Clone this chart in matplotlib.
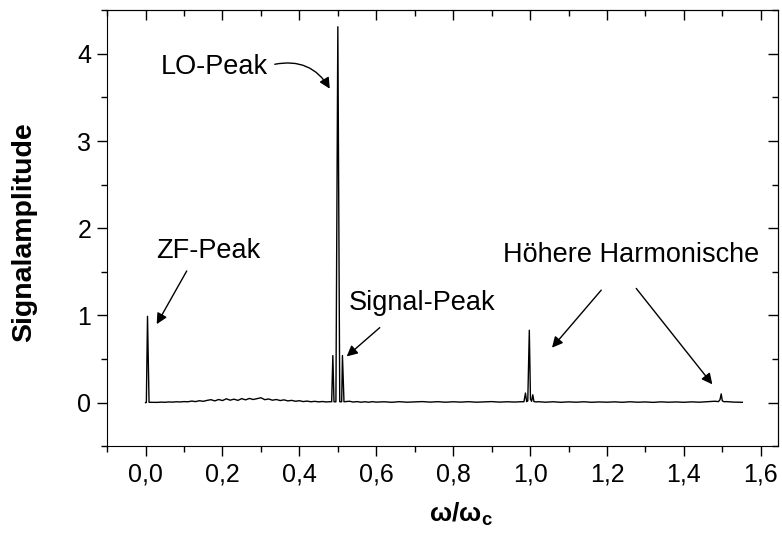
import numpy as np
import matplotlib.pyplot as plt
from matplotlib.ticker import MultipleLocator, FuncFormatter

plt.rcParams['font.family'] = ['Liberation Sans', 'DejaVu Sans']
plt.rcParams['mathtext.fontset'] = 'custom'
plt.rcParams['mathtext.rm'] = 'Liberation Sans'
plt.rcParams['mathtext.bf'] = 'Liberation Sans:bold'
plt.rcParams['mathtext.it'] = 'Liberation Sans:italic'

# Grundlinie (Rauschuntergrund)
base_w = [0.00, 0.02, 0.03, 0.04, 0.05, 0.06, 0.07, 0.08, 0.09, 0.10,
          0.11, 0.12, 0.13, 0.14, 0.15, 0.16, 0.17, 0.18, 0.19, 0.20,
          0.21, 0.22, 0.23, 0.24, 0.25, 0.26, 0.27, 0.28, 0.29, 0.30,
          0.31, 0.32, 0.33, 0.34, 0.35, 0.36, 0.37, 0.38, 0.39, 0.40,
          0.41, 0.42, 0.43, 0.44, 0.45, 0.46, 0.47, 0.48,
          0.52, 0.53, 0.54, 0.55, 0.56, 0.57, 0.58, 0.59, 0.60,
          0.62, 0.64, 0.66, 0.68, 0.70, 0.72, 0.74, 0.76, 0.78, 0.80,
          0.82, 0.84, 0.86, 0.88, 0.90, 0.92, 0.94, 0.96, 0.98,
          1.02, 1.04, 1.06, 1.08, 1.10, 1.12, 1.14, 1.16, 1.18, 1.20,
          1.22, 1.24, 1.26, 1.28, 1.30, 1.32, 1.34, 1.36, 1.38, 1.40,
          1.42, 1.44, 1.46, 1.48, 1.51, 1.53, 1.552]
base_a = [0.000, 0.004, 0.003, 0.006, 0.004, 0.008, 0.006, 0.010, 0.008, 0.012,
          0.010, 0.018, 0.012, 0.022, 0.015, 0.026, 0.034, 0.020, 0.036, 0.024,
          0.044, 0.028, 0.040, 0.026, 0.046, 0.032, 0.048, 0.036, 0.046, 0.056,
          0.034, 0.042, 0.028, 0.036, 0.024, 0.032, 0.020, 0.026, 0.016, 0.022,
          0.012, 0.018, 0.010, 0.015, 0.009, 0.013, 0.008, 0.011,
          0.012, 0.016, 0.007, 0.012, 0.005, 0.010, 0.005, 0.011, 0.006,
          0.010, 0.004, 0.011, 0.005, 0.009, 0.012, 0.006, 0.011, 0.005, 0.010,
          0.006, 0.011, 0.005, 0.009, 0.012, 0.006, 0.010, 0.007, 0.011,
          0.011, 0.005, 0.010, 0.004, 0.009, 0.005, 0.010, 0.004, 0.008, 0.005,
          0.009, 0.004, 0.010, 0.005, 0.008, 0.003, 0.009, 0.005, 0.008, 0.004,
          0.009, 0.005, 0.011, 0.016, 0.012, 0.006, 0.004]

# Peaks
peak_w = [0.002, 0.005, 0.009,
          0.484, 0.487, 0.490, 0.495, 0.500, 0.505, 0.510, 0.512, 0.516,
          0.984, 0.988, 0.991, 0.994, 0.998, 1.001, 1.004, 1.007, 1.010, 1.013, 1.017,
          1.490, 1.494, 1.497, 1.500, 1.505]
peak_a = [0.002, 0.990, 0.004,
          0.010, 0.540, 0.010, 0.010, 4.310, 0.010, 0.010, 0.540, 0.010,
          0.010, 0.110, 0.012, 0.020, 0.830, 0.040, 0.015, 0.090, 0.012, 0.010, 0.008,
          0.012, 0.035, 0.100, 0.020, 0.010]

w = np.array(base_w + peak_w)
a = np.array(base_a + peak_a)
order = np.argsort(w)
w, a = w[order], a[order]

fig = plt.figure(figsize=(7.82, 5.37), dpi=100)
ax = fig.add_axes([0.137, 0.169, 0.858, 0.812])
ax.plot(w, a, color='black', lw=1.0)

ax.set_xlim(-0.1, 1.645)
ax.set_ylim(-0.5, 4.5)

comma = FuncFormatter(lambda v, p: ('%.1f' % v).replace('.', ','))
ax.xaxis.set_major_locator(MultipleLocator(0.2))
ax.xaxis.set_minor_locator(MultipleLocator(0.1))
ax.xaxis.set_major_formatter(comma)
ax.yaxis.set_major_locator(MultipleLocator(1))
ax.yaxis.set_minor_locator(MultipleLocator(0.5))
ax.tick_params(which='major', direction='out', length=7.5, width=1, labelsize=18, pad=4)
ax.tick_params(which='minor', direction='out', length=4, width=1)

# obere und rechte Achse mit Ticks nach innen
top = ax.secondary_xaxis('top')
top.xaxis.set_major_locator(MultipleLocator(0.2))
top.xaxis.set_minor_locator(MultipleLocator(0.1))
top.tick_params(which='major', direction='in', length=7.5, width=1, labeltop=False)
top.tick_params(which='minor', direction='in', length=4, width=1)
right = ax.secondary_yaxis('right')
right.yaxis.set_major_locator(MultipleLocator(1))
right.yaxis.set_minor_locator(MultipleLocator(0.5))
right.tick_params(which='major', direction='in', length=7.5, width=1, labelright=False)
right.tick_params(which='minor', direction='in', length=4, width=1)

ax.set_xlabel(r'$\mathbf{\omega/\omega_c}$', fontsize=19)
ax.xaxis.set_label_coords(0.527, -0.125)
ax.set_ylabel('Signalamplitude', fontsize=20.5, fontweight='bold')
ax.yaxis.set_label_coords(-0.105, 0.49)

arrow = dict(arrowstyle='-|>', color='black', lw=1, mutation_scale=16, shrinkA=0, shrinkB=0)
ax.text(0.318, 3.85, 'LO-Peak', fontsize=19.5, ha='right', va='center')
ax.annotate('', xy=(0.479, 3.60), xytext=(0.336, 3.88),
            arrowprops=dict(arrow, connectionstyle='arc3,rad=-0.35'))
ax.text(0.164, 1.74, 'ZF-Peak', fontsize=19.5, ha='center', va='center')
ax.annotate('', xy=(0.029, 0.90), xytext=(0.107, 1.51), arrowprops=arrow)
ax.text(0.529, 1.14, 'Signal-Peak', fontsize=19.5, ha='left', va='center')
ax.annotate('', xy=(0.523, 0.53), xytext=(0.609, 0.86), arrowprops=arrow)
ax.text(1.263, 1.69, 'Höhere Harmonische', fontsize=19.5, ha='center', va='center')
ax.annotate('', xy=(1.057, 0.63), xytext=(1.185, 1.29), arrowprops=arrow)
ax.annotate('', xy=(1.474, 0.21), xytext=(1.276, 1.31), arrowprops=arrow)

fig.savefig('out.png', dpi=100)
